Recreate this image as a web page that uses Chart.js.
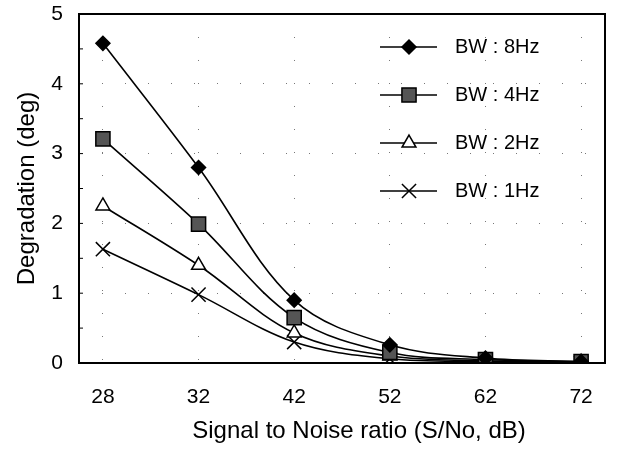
<!DOCTYPE html>
<html>
<head>
<meta charset="utf-8">
<script src="https://cdn.jsdelivr.net/npm/chart.js@4/dist/chart.umd.min.js"></script>
<style>
html,body{margin:0;padding:0;background:#fff;}
#wrap{width:617px;height:449px;position:relative;}
</style>
</head>
<body>
<div id="wrap"><canvas id="c" width="617" height="449"></canvas></div>
<script>
const categories = ["28", "32", "42", "52", "62", "72"];
const bw8 = [4.58, 2.80, 0.90, 0.26, 0.07, 0.02];
const bw4 = [3.21, 1.99, 0.65, 0.15, 0.05, 0.02];
const bw2 = [2.25, 1.40, 0.43, 0.10, 0.03, 0.01];
const bw1 = [1.63, 0.98, 0.30, 0.06, 0.02, 0.00];
const seriesNames = ["BW : 8Hz", "BW : 4Hz", "BW : 2Hz", "BW : 1Hz"];
const yTicks = [0, 1, 2, 3, 4, 5];
const xTitle = "Signal to Noise ratio (S/No, dB)";
const yTitle = "Degradation (deg)";

const FONT = "'Liberation Sans', Arial, sans-serif";

const styles = [
  {pointStyle:'rectRot', radius:7, bg:'#000', border:'#000'},
  {pointStyle:'rect', radius:10, bg:'#555', border:'#000'},
  {pointStyle:'triangle', radius:8, bg:'#fff', border:'#000'},
  {pointStyle:'crossRot', radius:10, bg:'#000', border:'#000'}
];

function toXY(arr){ return arr.map((v,i)=>({x:i, y:v})); }

const datasets = [bw8,bw4,bw2,bw1].map((arr,i)=>({
  label: seriesNames[i],
  data: toXY(arr),
  borderColor:'#000',
  borderWidth:1.6,
  tension:0.35,
  pointStyle: styles[i].pointStyle,
  pointRadius: styles[i].radius,
  pointBackgroundColor: styles[i].bg,
  pointBorderColor: styles[i].border,
  pointBorderWidth: 1.5,
  fill:false
}));

const framePlugin = {
  id:'frame',
  afterDatasetsDraw(chart){
    const {ctx, chartArea:a} = chart;
    ctx.save();
    ctx.strokeStyle='#000';
    ctx.lineWidth=2;
    ctx.strokeRect(a.left, a.top, a.right-a.left, a.bottom-a.top);
    const ys = chart.scales.y;
    ctx.lineWidth=1;
    for(let v=0; v<=5; v+=0.5){
      const py = ys.getPixelForValue(v);
      ctx.beginPath(); ctx.moveTo(a.left, py); ctx.lineTo(a.left+4, py); ctx.stroke();
    }
    ctx.restore();
  },
  afterDraw(chart){
    const ctx = chart.ctx;
    ctx.save();
    const x0 = 380, x1 = 437, xm = 409, tx = 455;
    chart.data.datasets.forEach((ds,i)=>{
      const y = 47 + i*48;
      ctx.strokeStyle='#000'; ctx.lineWidth=1.6;
      ctx.beginPath(); ctx.moveTo(x0,y); ctx.lineTo(x1,y); ctx.stroke();
      ctx.fillStyle = ds.pointBackgroundColor; ctx.strokeStyle = ds.pointBorderColor;
      ctx.lineWidth = ds.pointBorderWidth;
      Chart.helpers.drawPoint(ctx, {pointStyle: ds.pointStyle, radius: ds.pointRadius, rotation:0, borderWidth: ds.pointBorderWidth}, xm, y);
      ctx.fillStyle='#000';
      ctx.font = "20px " + FONT;
      ctx.textBaseline='middle'; ctx.textAlign='left';
      ctx.fillText(ds.label, tx, y);
    });
    ctx.fillStyle='#000';
    ctx.font = "24px " + FONT;
    ctx.textAlign='center'; ctx.textBaseline='middle';
    ctx.fillText(xTitle, 359, 431);
    ctx.restore();
  }
};

new Chart(document.getElementById('c'), {
  type:'line',
  data:{datasets},
  options:{
    responsive:false,
    animation:false,
    events:[],
    layout:{padding:{left:13, right:12, top:14, bottom:0}},
    plugins:{legend:{display:false}, tooltip:{enabled:false}},
    scales:{
      x:{
        type:'linear', min:-0.25, max:5.25,
        afterBuildTicks(s){ s.ticks = categories.map((c,i)=>({value:i})); },
        ticks:{
          callback:(v)=>categories[v],
          color:'#000', font:{family:FONT, size:21}, padding:22, maxRotation:0
        },
        grid:{color:'#777', lineWidth:1, drawTicks:false},
        border:{display:false, dash:[1,22]},
        title:{display:false},
        afterFit(s){ s.height = 86; s.paddingLeft = 0; s.paddingRight = 0; }
      },
      y:{
        min:0, max:5,
        afterBuildTicks(s){ s.ticks = yTicks.map(v=>({value:v})); },
        ticks:{color:'#000', font:{family:FONT, size:21}, padding:16},
        grid:{color:'#777', lineWidth:1, drawTicks:false},
        border:{display:false, dash:[1,22]},
        title:{display:true, text:yTitle, color:'#000', font:{family:FONT, size:24}, padding:{top:0, bottom:0}},
        afterFit(s){ s.width = 66; s.paddingTop = 0; s.paddingBottom = 0; }
      }
    }
  },
  plugins:[framePlugin]
});
</script>
</body>
</html>
